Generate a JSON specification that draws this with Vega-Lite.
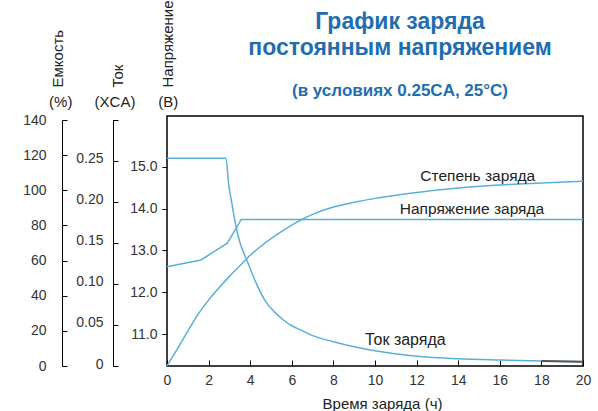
{
  "$schema": "https://vega.github.io/schema/vega-lite/v6.json",
  "autosize": {"type": "none"},
  "padding": {"left": 167, "top": 116, "right": 15, "bottom": 45},
  "width": 416,
  "height": 250,
  "title": {
    "text": ["График заряда", "постоянным напряжением"],
    "subtitle": "(в условиях 0.25CA, 25°C)",
    "frame": "group",
    "anchor": "middle",
    "fontSize": 23,
    "fontWeight": "bold",
    "color": "#1F6DB0",
    "lineHeight": 26,
    "subtitleFontSize": 17,
    "subtitleFontWeight": "bold",
    "subtitleColor": "#1F6DB0",
    "subtitlePadding": 23,
    "dx": 25,
    "dy": 103
  },
  "datasets": {
    "capacity": [
      {"t": 0, "c": 0}, {"t": 0.5, "c": 9.8}, {"t": 1, "c": 19.8}, {"t": 1.5, "c": 29.5},
      {"t": 2, "c": 37.5}, {"t": 2.5, "c": 44.5}, {"t": 3, "c": 51}, {"t": 3.5, "c": 57},
      {"t": 4, "c": 63}, {"t": 4.5, "c": 68}, {"t": 5, "c": 72.5}, {"t": 5.5, "c": 76.5},
      {"t": 6, "c": 80.2}, {"t": 6.5, "c": 83.5}, {"t": 7, "c": 86.3}, {"t": 8, "c": 90.5},
      {"t": 9, "c": 93.2}, {"t": 10, "c": 95.4}, {"t": 11, "c": 97.2}, {"t": 12, "c": 98.8},
      {"t": 14, "c": 101.3}, {"t": 16, "c": 103}, {"t": 18, "c": 104.2}, {"t": 20, "c": 105.1}
    ],
    "current": [
      {"t": 0, "i": 0.253}, {"t": 2.84, "i": 0.253}, {"t": 2.96, "i": 0.222}, {"t": 3.12, "i": 0.198},
      {"t": 3.3, "i": 0.172}, {"t": 3.5, "i": 0.151}, {"t": 3.84, "i": 0.129}, {"t": 4.25, "i": 0.103},
      {"t": 4.73, "i": 0.079}, {"t": 5.2, "i": 0.065}, {"t": 5.6, "i": 0.056}, {"t": 6, "i": 0.049},
      {"t": 6.5, "i": 0.043}, {"t": 7, "i": 0.037}, {"t": 8, "i": 0.0296}, {"t": 9, "i": 0.0235},
      {"t": 10, "i": 0.0185}, {"t": 12, "i": 0.0118}, {"t": 14, "i": 0.0087}, {"t": 16, "i": 0.0072},
      {"t": 18, "i": 0.0061}, {"t": 20, "i": 0.0052}
    ],
    "voltage": [
      {"t": 0, "v": 12.61}, {"t": 1.63, "v": 12.77}, {"t": 2.9, "v": 13.17},
      {"t": 3.57, "v": 13.74}, {"t": 20, "v": 13.74}
    ],
    "one": [{"k": 1}]
  },
  "layer": [
    {
      "data": {"name": "capacity"},
      "mark": {"type": "line", "interpolate": "monotone", "color": "#5AAEDC", "strokeWidth": 1.5},
      "encoding": {
        "x": {
          "field": "t",
          "type": "quantitative",
          "scale": {"domain": [0, 20], "nice": false},
          "axis": {
            "values": [0, 2, 4, 6, 8, 10, 12, 14, 16, 18, 20],
            "title": "Время заряда (ч)",
            "titleX": 215,
            "titleY": 37,
            "titleAlign": "center",
            "titleBaseline": "middle",
            "tickSize": -6,
            "labelPadding": 13,
            "labelFlush": false,
            "domain": false
          }
        },
        "y": {
          "field": "c",
          "type": "quantitative",
          "scale": {"domain": [0, 140], "range": [250, 4], "nice": false},
          "axis": {
            "orient": "left",
            "offset": 105,
            "values": [0, 20, 40, 60, 80, 100, 120, 140],
            "tickSize": -5,
            "labelPadding": 21,
            "title": "Емкость",
            "titleX": -5,
            "titleY": -29
          }
        }
      }
    },
    {
      "data": {"name": "current"},
      "mark": {"type": "line", "interpolate": "monotone", "color": "#5AAEDC", "strokeWidth": 1.5},
      "encoding": {
        "x": {"field": "t", "type": "quantitative"},
        "y": {
          "field": "i",
          "type": "quantitative",
          "scale": {"domain": [0, 0.3], "range": [250, 3.6], "nice": false},
          "axis": {
            "orient": "left",
            "offset": 54,
            "values": [0, 0.05, 0.1, 0.15, 0.2, 0.25, 0.3],
            "labelExpr": "datum.value == 0 ? '0' : datum.value > 0.29 ? '' : format(datum.value, '.2f')",
            "tickSize": -5,
            "labelPadding": 15,
            "labelOffset": -2,
            "title": "Ток",
            "titleX": 4,
            "titleY": -29
          }
        }
      }
    },
    {
      "data": {"name": "current"},
      "transform": [{"filter": "datum.t >= 18"}],
      "mark": {"type": "line", "color": "#555", "strokeWidth": 1.8},
      "encoding": {
        "x": {"field": "t", "type": "quantitative"},
        "y": {
          "field": "i",
          "type": "quantitative",
          "scale": {"domain": [0, 0.3], "range": [250, 3.6], "nice": false},
          "axis": null
        }
      }
    },
    {
      "data": {"name": "voltage"},
      "mark": {"type": "line", "color": "#5AAEDC", "strokeWidth": 1.5},
      "encoding": {
        "x": {"field": "t", "type": "quantitative"},
        "y": {
          "field": "v",
          "type": "quantitative",
          "scale": {"domain": [10.235, 16.212], "nice": false},
          "axis": {
            "orient": "left",
            "offset": 0,
            "values": [11, 12, 13, 14, 15],
            "format": ".1f",
            "tickSize": 5,
            "labelPadding": 5,
            "domain": false,
            "title": "Напряжение",
            "titleX": 0,
            "titleY": -29
          }
        }
      }
    },
    {
      "data": {"name": "one"},
      "mark": {"type": "text", "fontSize": 15.5, "color": "#222", "text": "Степень заряда"},
      "encoding": {
        "x": {"datum": 14.94, "type": "quantitative"},
        "y": {"datum": 14.777, "type": "quantitative", "scale": {"domain": [10.235, 16.212], "nice": false}, "axis": null}
      }
    },
    {
      "data": {"name": "one"},
      "mark": {"type": "text", "fontSize": 15.5, "color": "#222", "text": "Напряжение заряда"},
      "encoding": {
        "x": {"datum": 14.66, "type": "quantitative"},
        "y": {"datum": 13.981, "type": "quantitative", "scale": {"domain": [10.235, 16.212], "nice": false}, "axis": null}
      }
    },
    {
      "data": {"name": "one"},
      "mark": {"type": "text", "fontSize": 16, "color": "#222", "text": "Ток заряда"},
      "encoding": {
        "x": {"datum": 11.46, "type": "quantitative"},
        "y": {"datum": 10.857, "type": "quantitative", "scale": {"domain": [10.235, 16.212], "nice": false}, "axis": null}
      }
    },
    {
      "data": {"name": "one"},
      "mark": {"type": "text", "fontSize": 15, "color": "#222", "text": "(%)"},
      "encoding": {
        "x": {"datum": -5.11, "type": "quantitative"},
        "y": {"datum": 16.553, "type": "quantitative", "scale": {"domain": [10.235, 16.212], "nice": false}, "axis": null}
      }
    },
    {
      "data": {"name": "one"},
      "mark": {"type": "text", "fontSize": 15, "color": "#222", "text": "(XCA)"},
      "encoding": {
        "x": {"datum": -2.5, "type": "quantitative"},
        "y": {"datum": 16.553, "type": "quantitative", "scale": {"domain": [10.235, 16.212], "nice": false}, "axis": null}
      }
    },
    {
      "data": {"name": "one"},
      "mark": {"type": "text", "fontSize": 15, "color": "#222", "text": "(В)"},
      "encoding": {
        "x": {"datum": 0.06, "type": "quantitative"},
        "y": {"datum": 16.553, "type": "quantitative", "scale": {"domain": [10.235, 16.212], "nice": false}, "axis": null}
      }
    }
  ],
  "resolve": {"scale": {"y": "independent"}},
  "config": {
    "font": "Liberation Sans",
    "view": {"stroke": "#000", "strokeWidth": 1.5},
    "axis": {
      "grid": false,
      "domainColor": "#000",
      "tickColor": "#000",
      "labelFontSize": 14,
      "labelColor": "#333",
      "titleFontSize": 15,
      "titleFontWeight": "normal",
      "titleColor": "#222"
    },
    "axisY": {
      "titleAngle": 270,
      "titleAlign": "left",
      "titleBaseline": "middle"
    }
  }
}
